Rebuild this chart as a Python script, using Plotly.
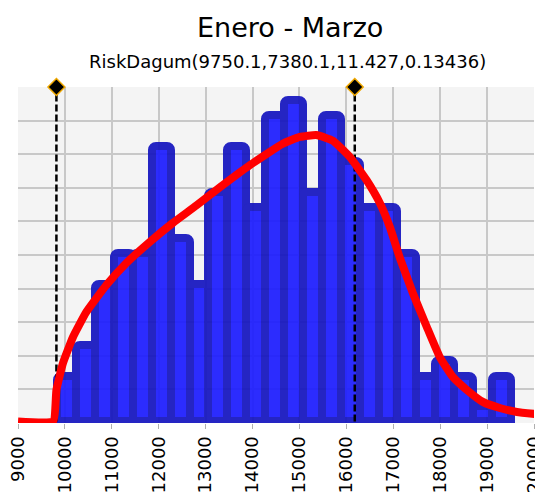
import plotly.graph_objects as go

# histograma (24 clases de ~403 de ancho, desde ~9836)
bin_start = 9836
bin_width = 403
conteos = [3, 5, 9, 11, 11, 18, 12, 9, 15, 18, 14, 20, 21, 15, 20, 17, 14, 14, 11, 3, 4, 3, 1, 3]

# curva ajustada
curva_x = [9000, 9750, 9819, 9959, 10173, 10458, 10885, 11311, 11808, 12299, 12804, 13301,
           13940, 14644, 15007, 15362, 15710, 16073, 16429, 16713, 16927, 17140, 17417,
           17715, 17992, 18269, 18568, 18909, 19271, 19634, 20017]
curva_y = [0, 0, 2.06, 3.82, 5.52, 7.16, 8.92, 10.36, 11.73, 12.97, 14.12, 15.3,
           16.75, 18.15, 18.6, 18.72, 18.35, 17.29, 15.78, 14.28, 12.71, 10.69, 8.4,
           6.18, 4.21, 2.91, 2.06, 1.28, 0.88, 0.62, 0.49]

# percentiles marcados
marcas_x = [9819, 16179]

x_ticks = [9000, 10000, 11000, 12000, 13000, 14000, 15000, 16000, 17000, 18000, 19000, 20000]

titulo = "Enero - Marzo"
subtitulo = "RiskDagum(9750.1,7380.1,11.427,0.13436)"

y_min, y_max = -0.1, 21.86
centros = [bin_start + bin_width * (i + 0.5) for i in range(len(conteos))]

fig = go.Figure()

for mx in marcas_x:
    fig.add_trace(go.Scatter(
        x=[mx, mx], y=[0, y_max], mode='lines',
        line=dict(color='black', width=2.5, dash='7px,3px'),
        hoverinfo='none', showlegend=False
    ))

fig.add_trace(go.Bar(
    x=centros, y=conteos, width=bin_width,
    marker=dict(color='#1c1cff', line=dict(color='#1414bf', width=8), cornerradius=4),
    opacity=0.92, showlegend=False
))

fig.add_trace(go.Scatter(
    x=curva_x, y=curva_y, mode='lines',
    line=dict(color='#ff0000', width=8, shape='spline', smoothing=0.4),
    showlegend=False
))

fig.add_trace(go.Scatter(
    x=marcas_x, y=[y_max, y_max], mode='markers', cliponaxis=False,
    marker=dict(symbol='diamond', size=13, color='black', line=dict(color='#f0a800', width=1.5)),
    showlegend=False
))

fig.add_annotation(text=titulo, x=0.527, y=1.176, xref='paper', yref='paper',
                   showarrow=False, font=dict(size=27, color='black'), yanchor='middle')
fig.add_annotation(text=subtitulo, x=0.522, y=1.077, xref='paper', yref='paper',
                   showarrow=False, font=dict(size=18, color='black'), yanchor='middle')

# la página tiene 8px de margen, así que la figura se reduce para caber
fig.update_layout(
    width=535, height=485,
    margin=dict(l=10, r=9, t=79, b=70),
    paper_bgcolor='white', plot_bgcolor='#f4f4f4',
    font=dict(family='DejaVu Sans', color='black'),
    bargap=0,
    xaxis=dict(range=[9000, 20000], tickvals=x_ticks, ticktext=[str(t) for t in x_ticks],
               tickangle=-90, ticks='outside', ticklen=5, automargin=False,
               ticklabeloverflow='allow',
               tickcolor='#b0b0b0', gridcolor='#c8c8c8', gridwidth=1.5, zeroline=False,
               tickfont=dict(size=18), showline=False),
    yaxis=dict(range=[y_min, y_max], tick0=y_min, dtick=(y_max - y_min) / 10, automargin=False,
               showticklabels=False, gridcolor='#c8c8c8', gridwidth=1.5, zeroline=False),
)

fig.write_html("out.html")
